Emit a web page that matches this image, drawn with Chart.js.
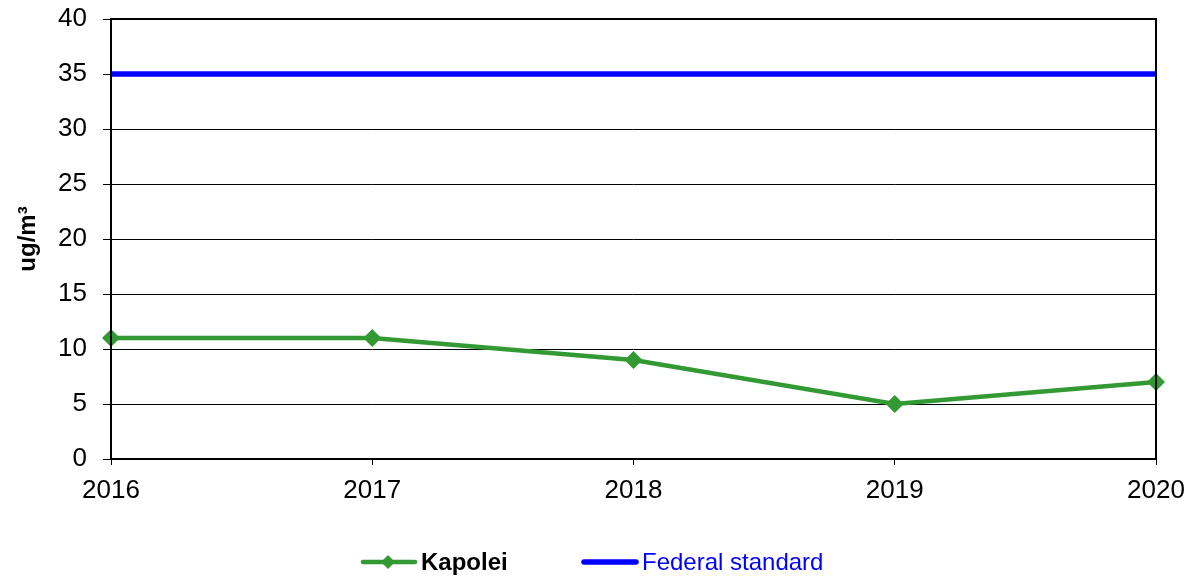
<!DOCTYPE html>
<html><head><meta charset="utf-8">
<script src="https://cdn.jsdelivr.net/npm/chart.js@4"></script>
<style>html,body{margin:0;padding:0;background:#fff}#wrap{width:1191px;height:578px}</style>
</head><body><div id="wrap"><canvas id="c" width="1191" height="578"></canvas></div>
<script>
const years = ['2016','2017','2018','2019','2020'];
const kapolei = [11, 11, 9, 5, 7];
const federalStandard = [35, 35, 35, 35, 35];
const yTicks = [0,5,10,15,20,25,30,35,40];

const FONT = "'Liberation Sans', Arial, sans-serif";

const frame = {
  id: 'frame',
  afterDatasetsDraw(chart) {
    const {ctx, chartArea: a} = chart;
    ctx.save();
    ctx.strokeStyle = '#000';
    ctx.lineWidth = 2;
    ctx.strokeRect(a.left, a.top, a.right - a.left, a.bottom - a.top);
    ctx.restore();
  },
  afterDraw(chart) {
    const ctx = chart.ctx;
    const y = 562;
    ctx.save();
    // Kapolei
    ctx.strokeStyle = '#339933';
    ctx.lineWidth = 4.5;
    ctx.lineCap = 'round';
    ctx.beginPath(); ctx.moveTo(363, y); ctx.lineTo(415, y); ctx.stroke();
    ctx.fillStyle = '#339933';
    ctx.beginPath(); ctx.moveTo(388, y-7); ctx.lineTo(395, y); ctx.lineTo(388, y+7); ctx.lineTo(381, y); ctx.closePath(); ctx.fill();
    ctx.fillStyle = '#000';
    ctx.font = "bold 24px " + FONT;
    ctx.textBaseline = 'middle';
    ctx.fillText('Kapolei', 421, y+1);
    // Federal
    ctx.strokeStyle = '#0000ff';
    ctx.lineWidth = 5.5;
    ctx.beginPath(); ctx.moveTo(584, y); ctx.lineTo(636, y); ctx.stroke();
    ctx.fillStyle = '#0000ff';
    ctx.font = "24px " + FONT;
    ctx.fillText('Federal standard', 642, y+1);
    ctx.restore();
  }
};

new Chart(document.getElementById('c'), {
  type: 'line',
  data: {
    labels: years,
    datasets: [
      {label: 'Kapolei', data: kapolei, borderColor: '#339933', backgroundColor: '#339933',
       borderWidth: 4.5, pointStyle: 'rectRot', pointRadius: 9, pointHoverRadius: 9, pointBorderWidth: 0, tension: 0, order: 1},
      {label: 'Federal standard', data: federalStandard, borderColor: '#0000ff', backgroundColor: '#0000ff',
       borderWidth: 5.5, pointRadius: 0, tension: 0, order: 2}
    ]
  },
  options: {
    responsive: false,
    animation: false,
    layout: {padding: {left: 0, right: 35, top: 19, bottom: 0}},
    plugins: {legend: {display: false}, tooltip: {enabled: false}},
    scales: {
      x: {
        type: 'category',
        offset: false,
        grid: {drawOnChartArea: false, drawTicks: true, tickLength: 6, color: '#000', lineWidth: 1},
        border: {display: false},
        ticks: {font: {family: FONT, size: 26}, color: '#000', padding: 10, maxRotation: 0, autoSkip: false},
        afterFit(s) { s.height = 119; s.paddingLeft = 0; s.paddingRight = 0; }
      },
      y: {
        min: 0, max: 40,
        afterBuildTicks(s) { s.ticks = yTicks.map(v => ({value: v})); },
        grid: {color: '#000', lineWidth: 1, tickLength: 8, drawTicks: true},
        border: {display: false},
        ticks: {font: {family: FONT, size: 26}, color: '#000', padding: 16},
        title: {display: true, text: 'ug/m³', font: {family: FONT, size: 24, weight: 'bold'}, color: '#000', padding: {top: 14, bottom: 0}},
        afterFit(s) { s.width = 111; s.paddingTop = 0; s.paddingBottom = 0; }
      }
    }
  },
  plugins: [frame]
});
</script></body></html>
